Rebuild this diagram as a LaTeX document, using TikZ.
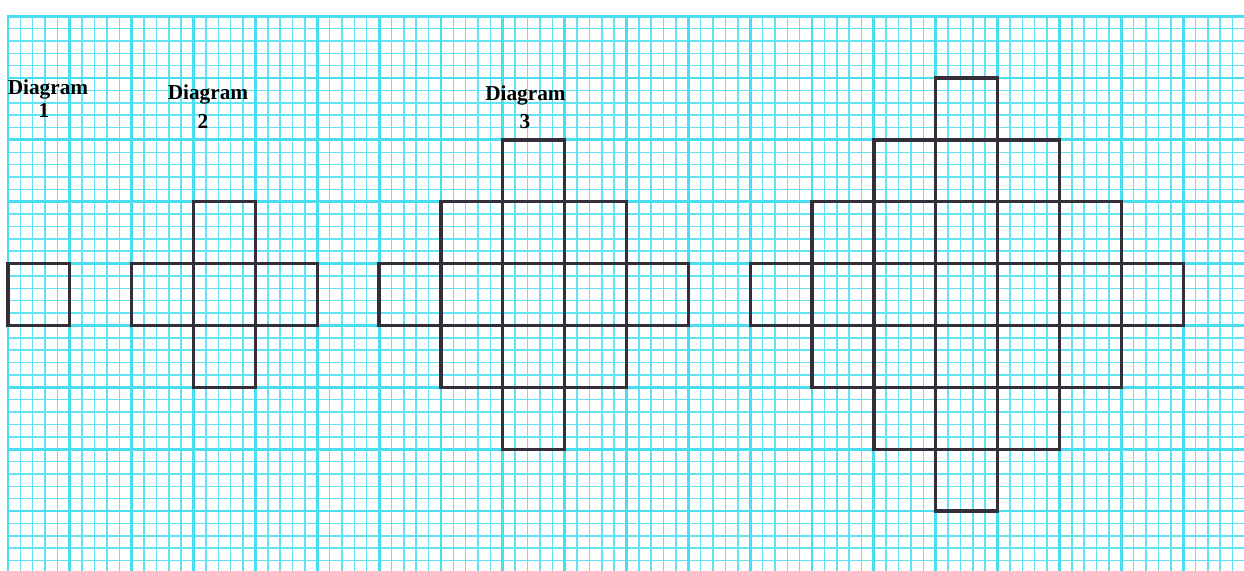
\documentclass[tikz,border=0pt]{standalone}
\usepackage{fontspec}
\setmainfont{Liberation Serif}
\usepackage{tikz}

\definecolor{gridcyan}{RGB}{72,222,240}
\definecolor{pencil}{RGB}{52,46,56}

\begin{document}
\begin{tikzpicture}[
    x=1cm, y=1cm,
    minor/.style={gridcyan!85, line width=0.7pt},
    major/.style={gridcyan, line width=1.3pt},
    fig/.style={pencil, line width=1.5pt, line join=miter},
    lab/.style={font=\fontsize{9.8}{11}\selectfont\bfseries, inner sep=0pt, anchor=base},
  ]
    \useasboundingbox[fill=white] (-0.129,-0.970) rectangle (19.984,8.262);

    % graph paper
    \clip (-0.129,-0.970) rectangle (19.984,8.262);
    \draw[minor, step=0.2] (0,-1) grid (20,8);
    \draw[major, step=1] (0,-1) grid (20,8);
    \draw[major] (0,-1) -- (0,8) -- (20,8);

    % the four patterns: n stacked rectangles around the middle column
    \foreach \n/\c/\b in {1/0/3, 2/3/2, 3/8/1, 4/15/0} {
      \foreach \k in {1,...,\n} {
        \draw[fig] (\c-\k+1,\b+\k-1) rectangle (\c+\k,\b+2*\n-\k);
      }
    }

    % labels
    \node[lab] (lab1) at (0.647,6.726) {Diagram};
    \node[lab] (num1) at (0.582,6.354) {1};
    \node[lab] (lab2) at (3.234,6.661) {Diagram};
    \node[lab] (num2) at (3.153,6.192) {2};
    \node[lab] (lab3) at (8.367,6.629) {Diagram};
    \node[lab] (num3) at (8.359,6.192) {3};
  \end{tikzpicture}
\end{document}
